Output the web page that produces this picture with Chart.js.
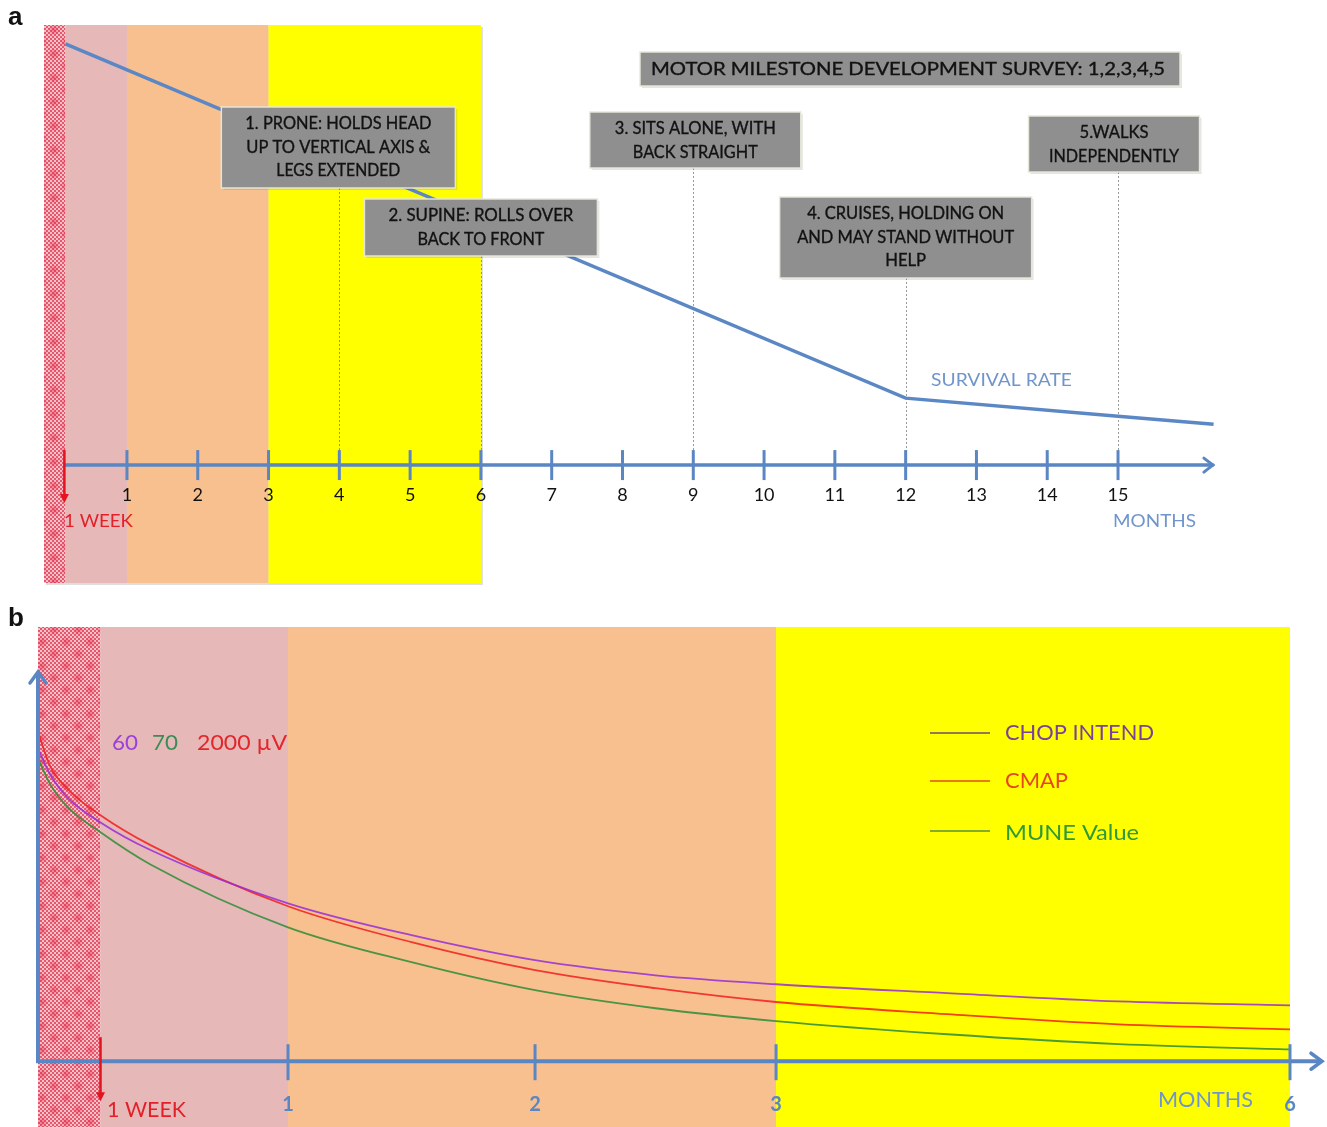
<!DOCTYPE html>
<html><head><meta charset="utf-8">
<script src="https://cdn.jsdelivr.net/npm/chart.js@4/dist/chart.umd.min.js"></script>
<style>
html,body{margin:0;padding:0;background:#fff;width:1327px;height:1127px;overflow:hidden;}
#ca{position:absolute;left:0;top:0;}
#cb{position:absolute;left:0;top:600px;}
</style></head><body>
<canvas id="ca" width="1327" height="600"></canvas>
<canvas id="cb" width="1327" height="527"></canvas>
<script>
// ================= DATA: panel a =================
const monthTicksA = [1,2,3,4,5,6,7,8,9,10,11,12,13,14,15];
const survivalMonths = [0.13, 12, 15, 16.35];
const survivalRate = [100, 15.9, 11.6, 9.7];
const milestoneMonths = [4, 6, 9, 12, 15];
const milestoneLabels = [
  ["1. PRONE: HOLDS HEAD", "UP TO VERTICAL AXIS &", "LEGS EXTENDED"],
  ["2. SUPINE: ROLLS OVER", "BACK TO FRONT"],
  ["3. SITS ALONE, WITH", "BACK STRAIGHT"],
  ["4. CRUISES, HOLDING ON", "AND MAY STAND WITHOUT", "HELP"],
  ["5.WALKS", "INDEPENDENTLY"]
];
const surveyTitle = "MOTOR MILESTONE DEVELOPMENT SURVEY: 1,2,3,4,5";
const phaseBoundsA = [-0.172, 0.13, 1, 3, 6];
const weekA = 0.13;

// ================= DATA: panel b =================
const monthsB = [0, 0.05, 0.12, 0.25, 0.45, 1, 1.5, 2, 2.5, 3, 4, 5, 6];
const chopIntend = [95, 87.0, 80.0, 72.6, 64.2, 48.0, 38.3, 30.7, 26.1, 23.4, 20.7, 18.2, 17.0];
const cmap      = [100, 89.5, 82.6, 74.8, 65.7, 47.1, 36.2, 27.7, 22.2, 18.0, 14.3, 11.2, 9.7];
const muneValue = [92, 84.0, 77.2, 69.6, 59.8, 40.7, 30.1, 21.6, 16.1, 12.2, 8.2, 5.2, 3.6];
const seriesNamesB = ["CHOP INTEND", "CMAP", "MUNE Value"];
const baselineLabels = ["60", "70", "2000 µV"];
const monthTicksB = [1, 2, 3, 6];
const phaseBoundsB = [0, 0.25, 1, 3, 6];
const weekB = 0.25;

// ================= styling helpers =================
const FONT = "Lato, 'Open Sans', 'Noto Sans', sans-serif";
const AXIS_BLUE = '#5a86c4';
const TEXT_BLUE = '#6f95cc';

function T(ctx, s, x, y, o) {
  ctx.save();
  ctx.font = `${o.weight || 'normal'} ${o.size}px ${o.family || FONT}`;
  ctx.fillStyle = o.color || '#111';
  ctx.textBaseline = 'middle';
  ctx.textAlign = 'left';
  const m = ctx.measureText(s).width;
  const sx = o.w ? o.w / m : 1;
  const wd = m * sx;
  const left = o.align === 'left' ? x : x - wd / 2;
  ctx.translate(left, y);
  ctx.scale(sx, 1);
  ctx.fillText(s, 0, 0);
  if (o.heavy) { ctx.strokeStyle = o.color; ctx.lineWidth = o.heavy; ctx.strokeText(s, 0, 0); }
  ctx.restore();
}

function hatch(ctx) {
  const c = document.createElement('canvas');
  c.width = 24; c.height = 24;
  const g = c.getContext('2d');
  g.fillStyle = '#f4c2c8'; g.fillRect(0, 0, 24, 24);
  g.fillStyle = '#e8566c';
  for (let i = 0; i < 12; i++) for (let j = 0; j < 12; j++) if ((i + j) % 2 === 0) g.fillRect(i * 2, j * 2, 2, 2);
  [[6, 6], [18, 18]].forEach(([cx, cy]) => {
    const rg = g.createRadialGradient(cx, cy, 0, cx, cy, 6);
    rg.addColorStop(0, 'rgba(225,40,70,0.55)');
    rg.addColorStop(1, 'rgba(225,40,70,0)');
    g.fillStyle = rg; g.fillRect(cx - 6, cy - 6, 12, 12);
  });
  return ctx.createPattern(c, 'repeat');
}

function drawBands(ctx, x, top, bottom, bounds, shadow) {
  const fills = [hatch(ctx), '#e6b9b8', '#f9c08f', '#ffff00'];
  const px = v => x.getPixelForValue(v);
  if (shadow) {
    ctx.fillStyle = 'rgba(0,0,0,0.13)';
    ctx.fillRect(px(bounds[0]) + 2, top + 2, px(bounds[4]) - px(bounds[0]), bottom - top);
  }
  for (let i = 0; i < 4; i++) {
    ctx.fillStyle = fills[i];
    ctx.fillRect(px(bounds[i]), top, px(bounds[i + 1]) - px(bounds[i]), bottom - top);
  }
}

function chevron(ctx, tipX, tipY, dir, len, half) {
  ctx.beginPath();
  if (dir === 'right') { ctx.moveTo(tipX - len, tipY - half); ctx.lineTo(tipX, tipY); ctx.lineTo(tipX - len, tipY + half); }
  else { ctx.moveTo(tipX - half, tipY + len); ctx.lineTo(tipX, tipY); ctx.lineTo(tipX + half, tipY + len); }
  ctx.stroke();
}

function redArrow(ctx, x, y1, y2, w) {
  ctx.save();
  ctx.strokeStyle = '#e3131f'; ctx.fillStyle = '#e3131f'; ctx.lineWidth = w;
  ctx.beginPath(); ctx.moveTo(x, y1); ctx.lineTo(x, y2 - 7); ctx.stroke();
  ctx.beginPath(); ctx.moveTo(x - 4.5, y2 - 9); ctx.lineTo(x + 4.5, y2 - 9); ctx.lineTo(x, y2); ctx.closePath(); ctx.fill();
  ctx.restore();
}

// ================= panel a =================
const boxLayoutA = [
  {top: 107, h: 81, dx: -1, w: 234, tw: [186, 184, 124]},
  {top: 199, h: 57, dx: 0, w: 233, tw: [185, 127]},
  {top: 112, h: 56, dx: 2, w: 211, tw: [161, 125]},
  {top: 197, h: 81, dx: 0, w: 252, tw: [197, 217, 41]},
  {top: 116, h: 56, dx: -4, w: 171, tw: [69, 130]}
];

function grayBox(ctx, l, t, w, h) {
  ctx.save();
  ctx.fillStyle = 'rgba(0,0,0,0.10)';
  ctx.fillRect(l + 2, t + 2, w, h);
  ctx.fillStyle = '#8f8f8f';
  ctx.fillRect(l, t, w, h);
  ctx.strokeStyle = 'rgba(232,232,218,0.95)';
  ctx.lineWidth = 1.5;
  ctx.strokeRect(l, t, w, h);
  ctx.restore();
}

const pluginA = {
  id: 'panelA',
  beforeDraw(chart) {
    const {ctx, chartArea: ca, scales: {x, y}} = chart;
    ctx.save();
    drawBands(ctx, x, ca.top, ca.bottom, phaseBoundsA, true);
    const y0 = y.getPixelForValue(0);
    ctx.strokeStyle = 'rgba(120,120,120,0.75)';
    ctx.lineWidth = 1;
    ctx.setLineDash([2, 2]);
    milestoneMonths.forEach((m, i) => {
      const px = Math.round(x.getPixelForValue(m)) + 0.5;
      const b = boxLayoutA[i];
      ctx.beginPath(); ctx.moveTo(px, b.top + b.h); ctx.lineTo(px, y0); ctx.stroke();
    });
    ctx.restore();
  },
  afterDatasetsDraw(chart) {
    const {ctx, scales: {x, y}} = chart;
    const y0 = y.getPixelForValue(0);
    ctx.save();
    ctx.strokeStyle = AXIS_BLUE; ctx.lineWidth = 3.5; ctx.lineCap = 'round';
    ctx.beginPath(); ctx.moveTo(x.getPixelForValue(weekA), y0); ctx.lineTo(x.getPixelForValue(16.34), y0); ctx.stroke();
    ctx.lineWidth = 3; chevron(ctx, x.getPixelForValue(16.34), y0, 'right', 9, 7);
    ctx.lineCap = 'butt'; ctx.lineWidth = 3;
    monthTicksA.forEach(m => {
      const px = x.getPixelForValue(m);
      ctx.beginPath(); ctx.moveTo(px, y0 - 15); ctx.lineTo(px, y0 + 15); ctx.stroke();
    });
    redArrow(ctx, x.getPixelForValue(weekA) - 1, y0 - 15, y0 + 38, 2.5);
    milestoneMonths.forEach((m, i) => {
      const b = boxLayoutA[i];
      const cx = x.getPixelForValue(m) + b.dx;
      grayBox(ctx, cx - b.w / 2, b.top, b.w, b.h);
      milestoneLabels[i].forEach((s, j) => {
        T(ctx, s, cx, b.top + 17 + j * 23.2, {size: 17, color: '#121212', w: b.tw[j], heavy: 0.35});
      });
    });
    grayBox(ctx, 640, 52, 540, 34);
    T(ctx, surveyTitle, 908, 69.5, {size: 18, color: '#121212', w: 514, heavy: 0.35});
    T(ctx, 'SURVIVAL RATE', 931, 380, {size: 18, color: TEXT_BLUE, w: 141, align: 'left'});
    T(ctx, 'MONTHS', 1113, 521, {size: 18, color: TEXT_BLUE, w: 83, align: 'left'});
    T(ctx, '1 WEEK', 64, 521, {size: 18, color: '#e3202a', w: 69, align: 'left'});
    T(ctx, 'a', 8, 18, {size: 26, weight: 'bold', color: '#111', family: "'Liberation Sans', Arial, sans-serif", align: 'left'});
    ctx.restore();
  }
};

new Chart(document.getElementById('ca'), {
  type: 'line',
  data: {
    datasets: [{
      label: 'SURVIVAL RATE',
      data: survivalMonths.map((m, i) => ({x: m, y: survivalRate[i]})),
      borderColor: '#5b87c5', borderWidth: 3.5, pointRadius: 0, tension: 0, fill: false
    }]
  },
  options: {
    responsive: false, animation: false, devicePixelRatio: 1,
    layout: {padding: {left: 44, top: 25, right: 112, bottom: 17}},
    plugins: {legend: {display: false}, tooltip: {enabled: false}},
    scales: {
      x: {
        type: 'linear', min: -0.172, max: 16.37, position: {y: 0},
        grid: {display: false, drawTicks: false}, border: {display: false},
        afterBuildTicks: s => { s.ticks = monthTicksA.map(v => ({value: v})); },
        ticks: {autoSkip: false, maxRotation: 0, padding: 19, color: '#111', font: {family: FONT, size: 18}}
      },
      y: {type: 'linear', min: -28, max: 104.5, display: false}
    }
  },
  plugins: [pluginA]
});

// ================= panel b =================
// piecewise-linear month axis (the original figure's month spacing is uneven)
class PiecewiseScale extends Chart.LinearScale {
  static id = 'piecewise';
  static defaults = {};
  _dec(v) {
    const k = this.options.knots, f = this.options.knotFractions;
    for (let i = 1; i < k.length; i++) {
      if (v <= k[i] || i === k.length - 1) return f[i - 1] + (v - k[i - 1]) / (k[i] - k[i - 1]) * (f[i] - f[i - 1]);
    }
  }
  getPixelForValue(v) { return v === null || v === undefined ? NaN : this.getPixelForDecimal(this._dec(v)); }
  getValueForPixel(p) {
    const k = this.options.knots, f = this.options.knotFractions, d = this.getDecimalForPixel(p);
    for (let i = 1; i < k.length; i++) {
      if (d <= f[i] || i === k.length - 1) return k[i - 1] + (d - f[i - 1]) / (f[i] - f[i - 1]) * (k[i] - k[i - 1]);
    }
  }
}
Chart.register(PiecewiseScale);

const colorsB = ['rgba(150,45,215,0.85)', 'rgba(240,30,30,0.85)', 'rgba(45,140,55,0.85)'];
const legendLineColors = ['#8f7a52', '#e8791c', '#7fae2c'];
const textColorsB = ['#7b3f9e', '#e8451e', '#2f9a3a'];

const pluginB = {
  id: 'panelB',
  beforeDraw(chart) {
    const {ctx, chartArea: ca, scales: {x}} = chart;
    ctx.save();
    drawBands(ctx, x, ca.top, ca.bottom, phaseBoundsB, false);
    ctx.restore();
  },
  afterDatasetsDraw(chart) {
    const {ctx, scales: {x, y}} = chart;
    const y0 = y.getPixelForValue(0);
    const x0 = x.getPixelForValue(0);
    ctx.save();
    ctx.strokeStyle = AXIS_BLUE; ctx.lineWidth = 4; ctx.lineCap = 'butt';
    ctx.beginPath(); ctx.moveTo(x0, y0); ctx.lineTo(1321, y0); ctx.stroke();
    ctx.beginPath(); ctx.moveTo(x0, y0 + 2); ctx.lineTo(x0, 74); ctx.stroke();
    ctx.lineWidth = 3.5; ctx.lineCap = 'round';
    chevron(ctx, 1322, y0, 'right', 11, 8);
    chevron(ctx, x0, 72, 'up', 11, 8);
    ctx.lineCap = 'butt'; ctx.lineWidth = 3;
    monthTicksB.forEach(m => {
      const px = x.getPixelForValue(m);
      ctx.beginPath(); ctx.moveTo(px, y0 - 17); ctx.lineTo(px, y0 + 19); ctx.stroke();
    });
    redArrow(ctx, x.getPixelForValue(weekB), y0 - 24, y0 + 40, 2.5);
    T(ctx, '1 WEEK', 107, 510, {size: 21, color: '#e3202a', w: 79, align: 'left'});
    T(ctx, 'MONTHS', 1158, 500, {size: 21, color: TEXT_BLUE, w: 95, align: 'left'});
    const bx = [112, 152, 197], bw = [26, 26, 90], bc = ['#9b40d8', '#3d8b57', '#e3262b'];
    baselineLabels.forEach((s, i) => T(ctx, s, bx[i], 143, {size: 21, color: bc[i], w: bw[i], align: 'left'}));
    const ly = [133, 181, 231], tw = [149, 63, 134];
    seriesNamesB.forEach((s, i) => {
      ctx.save();
      ctx.strokeStyle = legendLineColors[i]; ctx.lineWidth = 2;
      ctx.beginPath(); ctx.moveTo(930, ly[i]); ctx.lineTo(990, ly[i]); ctx.stroke();
      ctx.restore();
      T(ctx, s, 1005, ly[i] + (i === 2 ? 2 : 0), {size: 22, color: textColorsB[i], w: tw[i], align: 'left'});
    });
    T(ctx, 'b', 8, 19, {size: 26, weight: 'bold', color: '#111', family: "'Liberation Sans', Arial, sans-serif", align: 'left'});
    ctx.restore();
  }
};

new Chart(document.getElementById('cb'), {
  type: 'line',
  data: {
    datasets: [chopIntend, cmap, muneValue].map((arr, i) => ({
      label: seriesNamesB[i],
      data: monthsB.map((m, k) => ({x: m, y: arr[k]})),
      borderColor: colorsB[i], borderWidth: 1.8, pointRadius: 0,
      cubicInterpolationMode: 'monotone', fill: false
    }))
  },
  options: {
    responsive: false, animation: false, devicePixelRatio: 1,
    layout: {padding: {left: 38, top: 27, right: 37, bottom: 0}},
    plugins: {legend: {display: false}, tooltip: {enabled: false}},
    scales: {
      x: {
        type: 'piecewise', min: 0, max: 6, position: {y: 0},
        knots: [0, 1, 2, 3, 6], knotFractions: [0, 0.1997, 0.397, 0.5895, 1],
        grid: {display: false, drawTicks: false}, border: {display: false},
        afterBuildTicks: s => { s.ticks = monthTicksB.map(v => ({value: v})); },
        ticks: {autoSkip: false, maxRotation: 0, padding: 31, color: '#5a86c4', font: {family: FONT, size: 20, weight: 'bold'}}
      },
      y: {type: 'linear', min: -20, max: 132, display: false}
    }
  },
  plugins: [pluginB]
});
</script>
</body></html>
